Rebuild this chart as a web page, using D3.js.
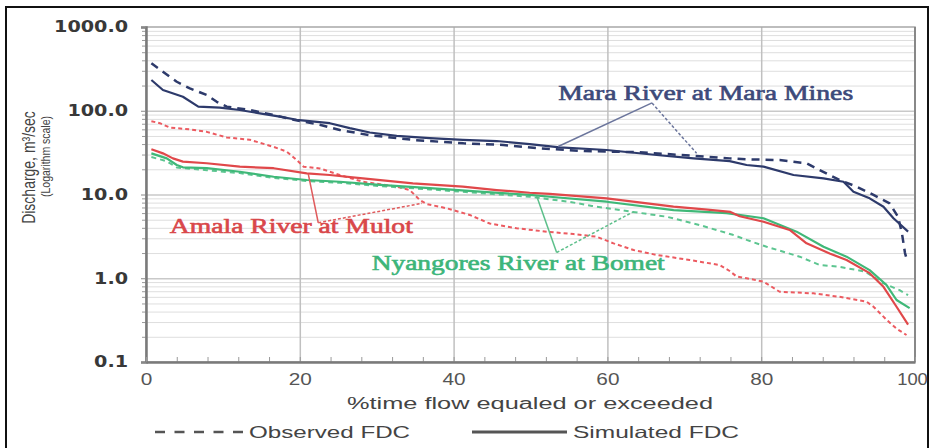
<!DOCTYPE html>
<html>
<head>
<meta charset="utf-8">
<script src="https://cdn.jsdelivr.net/npm/d3@7"></script>
<style>
  body { margin: 0; background: #fff; }
  svg { display: block; }
</style>
</head>
<body>
<div id="chart-area"></div>
<script>
const W = 931, H = 448
const plot = {left: 146, right: 915, top: 27, bottom: 362}

// ticks
const pctTicks = [0, 20, 40, 60, 80, 100]
const pctMinor = d3.range(0, 101, 4)
const qTicks = [0.1, 1, 10, 100, 1000]
const qMinor = [0.1, 1, 10, 100].flatMap(d => [2,3,4,5,6,7,8,9].map(k => d * k))

// [% time exceeded, discharge m3/s]
const maraObs = [[0.7,369],[2.2,292],[4.0,222],[5.7,185],[7.9,154],[9.2,128],[10.5,112],[13.5,102],[16.6,89],[19.2,78],[22.6,68],[25.2,59],[29.1,51],[34.8,44.8],[41.3,40.8],[46.5,39],[51.2,35.6],[57,33],[64.2,32],[71,29],[75.9,27],[78.1,26.3],[82.4,25.8],[85.9,23.6],[87.6,19.6],[90.2,14.9],[92.4,12.4],[94.6,9.9],[96.7,7.85],[97.8,5.4],[98.3,3.45],[98.7,2.0],[99,1.6]]
const maraSim = [[0.7,233],[2.2,177],[4.8,147],[6.8,112],[9.6,109],[12.2,102],[14.8,93],[17.4,85],[19.6,78],[23.9,71],[26.5,62],[29.1,55],[32.6,50],[36.9,47],[41.2,45],[45.6,43.5],[49.9,40],[53.8,36.5],[59.9,34],[66.4,29.6],[71.2,27],[75.9,25],[78.1,22.5],[80.3,21.5],[84.2,17.1],[88.1,15.6],[90.7,14.2],[92.0,10.8],[94.1,9.0],[95.9,7.15],[97.2,5.2],[99.1,3.6]]
const amalaObs = [[0.7,75],[1.8,71],[3.1,63],[5.7,60],[7.9,56],[10.5,48],[13.5,45],[16.6,37],[18.3,32.5],[19.6,25.8],[20.5,21.5],[22.6,20.5],[25.2,17.1],[28.2,14.2],[32.6,12.4],[34.3,11.3],[35.6,8.6],[36.5,7.7],[39.1,6.85],[42.1,5.7],[44.7,4.5],[48.2,3.95],[52.1,3.6],[55.6,3.37],[58.6,3.13],[60.8,2.61],[63.4,2.17],[66.4,1.9],[70.7,1.65],[74.6,1.44],[75.9,1.22],[76.8,1.05],[78.1,1.0],[80.3,0.91],[82.4,0.69],[86.8,0.66],[90.2,0.6],[93.7,0.525],[94.6,0.457],[96.3,0.32],[97.6,0.25],[98.9,0.21]]
const amalaSim = [[0.7,34.7],[2.2,31],[3.5,27],[4.8,24.7],[7.9,23.6],[12.2,21.5],[16.6,20.6],[20.9,17.9],[23.9,17.1],[28.2,15.6],[34.7,13.6],[41.2,12.4],[45.6,11.3],[49.9,10.5],[52.5,10.2],[59.9,9.0],[68.6,7.15],[73,6.6],[76,6.2],[77.2,5.5],[80.3,4.73],[83.7,3.77],[85.9,2.61],[88.9,1.98],[91.1,1.65],[94.1,1.15],[95.9,0.79],[97.6,0.457],[99.1,0.28]]
const nyanObs = [[0.7,28],[2.7,25],[4.0,21],[7.9,19.5],[12.2,18],[16.6,15.8],[20.9,14.5],[25.2,13.8],[30.4,12.6],[36.9,11.5],[43.4,10.4],[49.9,9.4],[55,8.2],[58,7.3],[63.3,6.2],[67.7,5.43],[72,4.32],[76.3,3.3],[78.1,2.87],[80.7,2.38],[85,1.81],[87.6,1.44],[90.2,1.37],[93.5,1.2],[95.9,0.87],[98,0.72],[99.1,0.63]]
const nyanSim = [[0.7,31],[2.7,27],[4.0,22.5],[4.8,21.1],[7.9,20.6],[12.2,18.7],[16.6,16.3],[20.9,14.9],[25.2,14.2],[30.4,13],[36.9,11.9],[43.4,10.8],[49.9,9.9],[52.5,9.4],[59.9,8.2],[68.6,6.5],[75.5,6.0],[80.3,5.2],[84.6,3.6],[88.1,2.38],[91.1,1.81],[94.1,1.25],[96.3,0.83],[97.6,0.55],[99.3,0.44]]

// station labels: text, start of text, apex of pointers, simulated / observed pointer ends
const noteText = ["Mara River at Mara Mines", "Amala River at Mulot", "Nyangores River at Bomet"]
const noteStart = [[53.6,134],[3.1,3.47],[29.35,1.25]]
const noteApex = [[65.8,124],[22.4,4.6],[53.4,2.03]]
const noteSimEnd = [[53.6,37.4],[21.1,17.6],[50.8,9.6]]
const noteObsEnd = [[71.6,31],[35.9,7.85],[63.4,6.24]]

const navy = "#2d3a6b", red = "#e0484a", green = "#3fb878"

const svg = d3.select("#chart-area").append("svg")
    .attr("width", W)
    .attr("height", H)

const x = d3.scaleLinear().domain([0, 100]).range([plot.left, plot.right])
const y = d3.scaleLog().domain([0.1, 1000]).range([plot.bottom, plot.top])

const fit = (sel, w) => sel.attr("textLength", w).attr("lengthAdjust", "spacingAndGlyphs")

// outer frame
svg.append("rect")
    .attr("x", 6).attr("y", 7)
    .attr("width", 922).attr("height", 460)
    .attr("fill", "none").attr("stroke", "#111").attr("stroke-width", 2)

// minor horizontal grid
svg.append("g")
    .attr("transform", `translate(${plot.left},0)`)
    .call(d3.axisLeft(y).tickValues(qMinor).tickSize(-(plot.right - plot.left)).tickFormat(""))
    .call(g => g.select(".domain").remove())
    .selectAll("line").attr("stroke", "#dedede")

// major horizontal grid
svg.append("g")
    .attr("transform", `translate(${plot.left},0)`)
    .call(d3.axisLeft(y).tickValues([1, 10, 100]).tickSize(-(plot.right - plot.left)).tickFormat(""))
    .call(g => g.select(".domain").remove())
    .selectAll("line").attr("stroke", "#c9c9c9").attr("stroke-width", 1.5)

// vertical grid
svg.append("g")
    .attr("transform", `translate(0,${plot.bottom})`)
    .call(d3.axisBottom(x).tickValues([20, 40, 60, 80]).tickSize(-(plot.bottom - plot.top)).tickFormat(""))
    .call(g => g.select(".domain").remove())
    .selectAll("line").attr("stroke", "#c0c0c0").attr("stroke-width", 1.5)

// plot border
svg.append("rect")
    .attr("x", plot.left).attr("y", plot.top)
    .attr("width", plot.right - plot.left).attr("height", plot.bottom - plot.top)
    .attr("fill", "none").attr("stroke", "#a8a8a8").attr("stroke-width", 1.5)
svg.append("line")
    .attr("x1", plot.right).attr("x2", plot.right).attr("y1", plot.top).attr("y2", plot.bottom)
    .attr("stroke", "#888").attr("stroke-width", 2)

// curves
const line = d3.line().x(d => x(d[0])).y(d => y(d[1]))
const series = [
    {data: amalaObs, color: "#ec5a60", dash: "4,3", w: 2},
    {data: nyanObs, color: "#5cc590", dash: "5,4", w: 2},
    {data: maraObs, color: navy, dash: "8,6", w: 2.5},
    {data: nyanSim, color: green, dash: null, w: 2.2},
    {data: amalaSim, color: red, dash: null, w: 2.2},
    {data: maraSim, color: navy, dash: null, w: 2.2}
]
svg.selectAll(".curve")
    .data(series)
    .enter()
    .append("path")
    .attr("class", "curve")
    .attr("d", d => line(d.data))
    .attr("fill", "none")
    .attr("stroke", d => d.color)
    .attr("stroke-width", d => d.w)
    .attr("stroke-dasharray", d => d.dash)
    .attr("stroke-linejoin", "round")

// station labels with pointers
const noteColor = ["#3d4a7a", "#d9474a", "#3db57a"]
const pointerColor = ["#6b759c", "#e05a5c", "#5cbf8a"]
const noteWidth = [295, 243, 293]
noteText.forEach((t, i) => {
    svg.append("line")
        .attr("x1", x(noteApex[i][0])).attr("y1", y(noteApex[i][1]))
        .attr("x2", x(noteSimEnd[i][0])).attr("y2", y(noteSimEnd[i][1]))
        .attr("stroke", pointerColor[i]).attr("stroke-width", 1.5)
    svg.append("line")
        .attr("x1", x(noteApex[i][0])).attr("y1", y(noteApex[i][1]))
        .attr("x2", x(noteObsEnd[i][0])).attr("y2", y(noteObsEnd[i][1]))
        .attr("stroke", pointerColor[i]).attr("stroke-width", 1.5)
        .attr("stroke-dasharray", "3,2")
    svg.append("text")
        .attr("x", x(noteStart[i][0])).attr("y", y(noteStart[i][1]))
        .attr("font-family", "Liberation Serif")
        .attr("font-size", 20)
        .attr("fill", noteColor[i])
        .attr("stroke", noteColor[i])
        .attr("stroke-width", 0.6)
        .text(t)
        .call(fit, noteWidth[i])
})

// left axis: minor ticks, labels
svg.append("g")
    .attr("transform", `translate(${plot.left},0)`)
    .call(d3.axisLeft(y).tickValues(qMinor).tickSize(4).tickFormat(""))
    .call(g => g.select(".domain").remove())
    .selectAll("line").attr("stroke", "#999")

svg.append("g")
    .attr("transform", `translate(${plot.left},0)`)
    .call(d3.axisLeft(y).tickValues(qTicks).tickSize(5).tickFormat(d3.format(".1f")))
    .call(g => g.select(".domain").attr("stroke", "#7a7a7a").attr("stroke-width", 2.5))
    .call(g => g.selectAll("line").attr("stroke", "#888"))
    .selectAll("text")
    .attr("x", -14)
    .attr("transform", "scale(1.28,1)")
    .attr("font-family", "DejaVu Sans")
    .attr("font-weight", "bold")
    .attr("font-size", 15)
    .attr("fill", "#383838")

// bottom axis
svg.append("g")
    .attr("transform", `translate(0,${plot.bottom})`)
    .call(d3.axisBottom(x).tickValues(pctMinor).tickSize(-5).tickFormat(""))
    .call(g => g.select(".domain").remove())
    .selectAll("line").attr("stroke", "#999")

svg.append("g")
    .attr("transform", `translate(0,${plot.bottom})`)
    .call(d3.axisBottom(x).tickValues(pctTicks).tickSize(0).tickFormat(d3.format("d")))
    .call(g => g.select(".domain").attr("stroke", "#7a7a7a").attr("stroke-width", 2.5))
    .selectAll("text")
    .attr("y", 12)
    .attr("transform", d => d === 100 ? "translate(-3,0) scale(1.15,1)" : "scale(1.3,1)")
    .attr("font-family", "Liberation Sans")
    .attr("font-size", 16)
    .attr("fill", "#555")

// axis titles (glyphs widened like the rest of the picture)
svg.append("text")
    .attr("transform", "translate(35,167.5) scale(1.3,1) rotate(-90)")
    .attr("text-anchor", "middle")
    .attr("font-family", "Liberation Sans")
    .attr("font-size", 14)
    .attr("fill", "#444")
    .text("Discharge, m³/sec")
svg.append("text")
    .attr("transform", "translate(50,156.5) scale(1.3,1) rotate(-90)")
    .attr("text-anchor", "middle")
    .attr("font-family", "Liberation Sans")
    .attr("font-size", 10.5)
    .attr("fill", "#444")
    .text("(Logarithm scale)")

svg.append("text")
    .attr("x", 347).attr("y", 409)
    .attr("font-family", "Liberation Sans")
    .attr("font-size", 16)
    .attr("fill", "#444")
    .text("%time flow equaled or exceeded")
    .call(fit, 366)

// legend
svg.append("line")
    .attr("x1", 155).attr("x2", 243).attr("y1", 432).attr("y2", 432)
    .attr("stroke", "#555").attr("stroke-width", 2.5).attr("stroke-dasharray", "10,9.5")
svg.append("text")
    .attr("x", 249).attr("y", 438)
    .attr("font-family", "Liberation Sans")
    .attr("font-size", 16.5)
    .attr("fill", "#444")
    .text("Observed FDC")
    .call(fit, 161)
svg.append("line")
    .attr("x1", 472).attr("x2", 567).attr("y1", 432).attr("y2", 432)
    .attr("stroke", "#555").attr("stroke-width", 3)
svg.append("text")
    .attr("x", 573).attr("y", 438)
    .attr("font-family", "Liberation Sans")
    .attr("font-size", 16.5)
    .attr("fill", "#444")
    .text("Simulated FDC")
    .call(fit, 166)
</script>
</body>
</html>
